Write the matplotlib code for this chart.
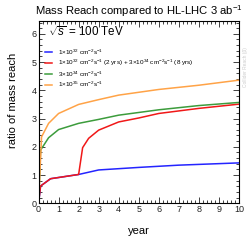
import matplotlib
matplotlib.use("Agg")
import matplotlib.pyplot as plt
from matplotlib.ticker import MultipleLocator

# values
blue_x = [0, 0.1, 0.6, 2, 3, 5, 7, 10]
blue_y = [0, 0.61, 0.87, 1.02, 1.18, 1.27, 1.35, 1.43]
red_x = [0, 0.1, 0.6, 2, 2.2, 2.5, 3, 4, 5, 6, 8, 10]
red_y = [0, 0.61, 0.87, 1.02, 1.97, 2.3, 2.59, 2.88, 3.02, 3.18, 3.36, 3.51]
green_x = [0, 0.1, 0.5, 1, 2, 3, 4, 6, 8, 10]
green_y = [0, 1.88, 2.32, 2.61, 2.83, 2.97, 3.12, 3.31, 3.46, 3.57]
orange_x = [0, 0.15, 0.5, 1, 2, 3, 4, 6, 8, 10]
orange_y = [0, 2.35, 2.83, 3.18, 3.5, 3.67, 3.83, 4.03, 4.18, 4.36]

labels = [
    r"1$\times$10$^{32}$ cm$^{-2}$s$^{-1}$",
    r"1$\times$10$^{32}$ cm$^{-2}$s$^{-1}$ (2 yrs) + 3$\times$10$^{34}$ cm$^{-2}$s$^{-1}$ (8 yrs)",
    r"3$\times$10$^{34}$ cm$^{-2}$s$^{-1}$",
    r"1$\times$10$^{35}$ cm$^{-2}$s$^{-1}$",
]
colors = ["#2424ff", "#f01818", "#3c9c3c", "#ffa347"]

plt.rcParams["font.family"] = ["Liberation Sans", "DejaVu Sans"]
plt.rcParams["mathtext.fontset"] = "custom"
plt.rcParams["mathtext.rm"] = "Liberation Sans"
plt.rcParams["mathtext.it"] = "Liberation Sans:italic"

fig = plt.figure(figsize=(2.52, 2.40), dpi=100)
ax = fig.add_axes([0.153, 0.153, 0.795, 0.759])

series = [(blue_x, blue_y), (red_x, red_y), (green_x, green_y), (orange_x, orange_y)]
for (xs, ys), lab, c in zip(series, labels, colors):
    ax.plot(xs, ys, color=c, lw=1.1, label=lab)

ax.set_xlim(0, 10)
ax.set_ylim(0, 6.45)
ax.xaxis.set_major_locator(MultipleLocator(1))
ax.xaxis.set_minor_locator(MultipleLocator(0.2))
ax.yaxis.set_major_locator(MultipleLocator(1))
ax.yaxis.set_minor_locator(MultipleLocator(0.2))
ax.tick_params(which="both", direction="in", top=True, right=True,
               labelsize=6.5, pad=1.5, width=0.6, colors="#222222")
ax.tick_params(which="major", length=4)
ax.tick_params(which="minor", length=2)
for sp in ax.spines.values():
    sp.set_linewidth(0.8)

ax.set_xlabel("year", fontsize=8)
ax.xaxis.set_label_coords(0.5, -0.125)
fig.text(0.052, 0.58, "ratio of mass reach", rotation=90, fontsize=8,
         ha="center", va="center")
fig.text(0.55, 0.955, r"Mass Reach compared to HL-LHC 3 ab$^{-1}$",
         fontsize=8.1, ha="center", va="center")

ax.text(0.045, 0.94, r"$\sqrt{s}$ = 100 TeV", transform=ax.transAxes,
        fontsize=8.4, va="center")
ax.legend(loc="upper left", bbox_to_anchor=(0.02, 0.87), frameon=False,
          fontsize=4.6, handlelength=1.0, handletextpad=1.0,
          labelspacing=0.2, borderaxespad=0)

fig.text(0.975, 0.72, "Collider Reach (β)", rotation=90, fontsize=3.5,
         color="#cccccc", ha="center", va="center")

fig.savefig("out.png", dpi=100)
